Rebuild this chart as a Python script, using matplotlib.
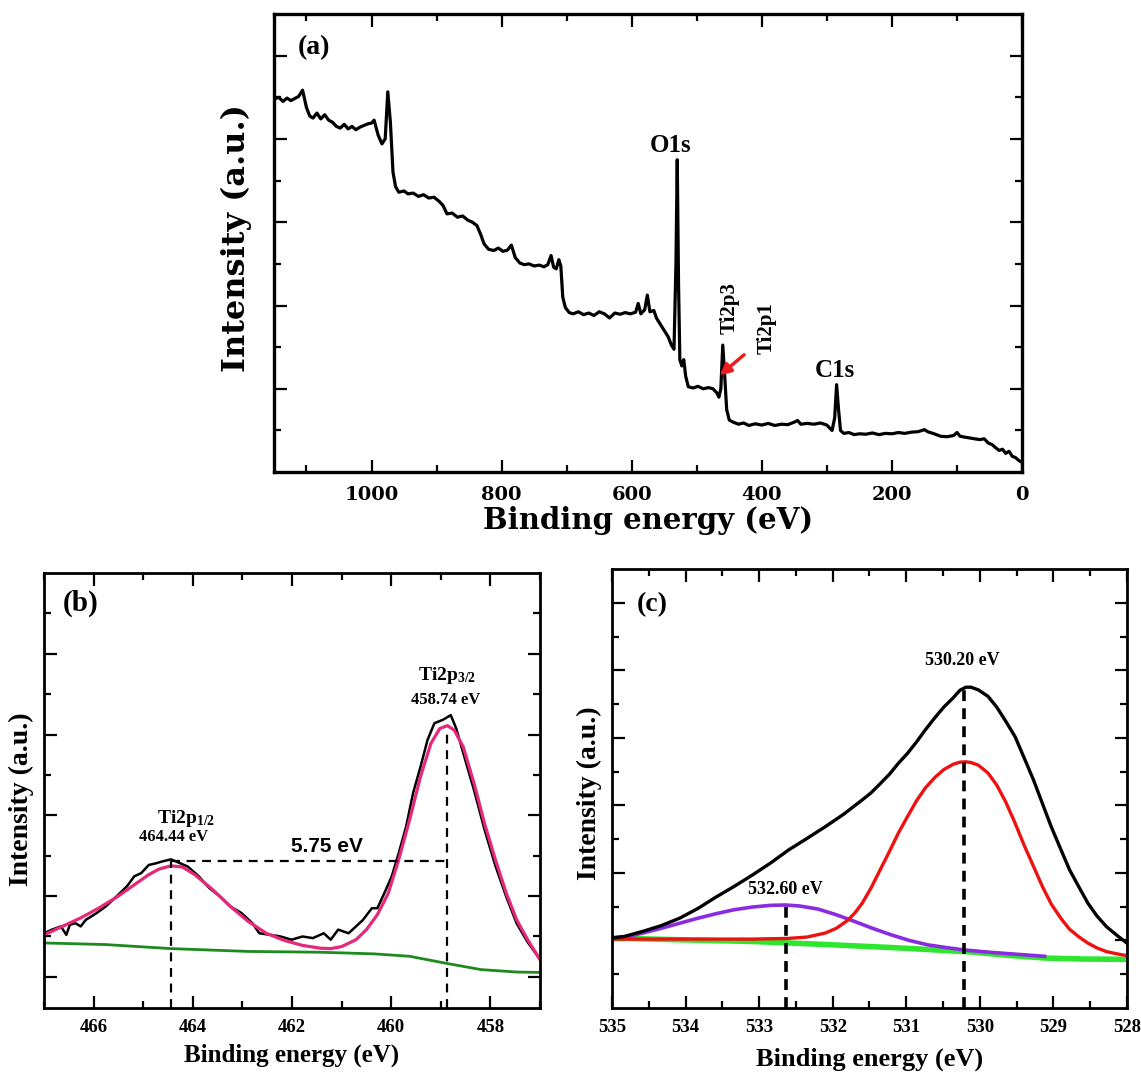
import numpy as np
import matplotlib
matplotlib.use("Agg")
import matplotlib.pyplot as plt
from matplotlib.ticker import MultipleLocator, FixedLocator

plt.rcParams['font.family'] = ['Liberation Serif', 'DejaVu Serif']
plt.rcParams['font.weight'] = 'bold'
plt.rcParams['mathtext.fontset'] = 'custom'
plt.rcParams['mathtext.rm'] = 'Liberation Serif:bold'
plt.rcParams['mathtext.default'] = 'rm'

# (a) survey spectrum
survey_be = [1150, 1143, 1136, 1130, 1124, 1118, 1112, 1106, 1100, 1095, 1090, 1084, 1078,
             1072, 1066, 1060, 1054, 1048, 1042, 1036, 1030, 1024, 1018, 1012, 1006, 1000,
             996, 990, 984, 979, 975, 971, 967, 963, 958, 950, 944, 936, 928, 920, 912, 904,
             896, 890, 884, 876, 868, 860, 852, 845, 838, 832, 827, 820, 812, 805, 798, 791,
             785, 779, 772, 765, 758, 750, 742, 735, 729, 724, 720, 716, 712, 709, 706, 702,
             696, 690, 682, 674, 666, 658, 650, 642, 634, 626, 618, 610, 602, 594, 590, 586,
             580, 576, 572, 566, 562, 556, 550, 544, 539, 535, 532, 530, 528, 526, 523, 520,
             517, 513, 506, 498, 490, 482, 475, 469, 466, 463, 460, 457, 454, 450, 444, 436,
             428, 420, 410, 400, 390, 380, 370, 360, 350, 345, 340, 330, 320, 310, 300, 292,
             288, 285, 282, 279, 274, 266, 258, 250, 240, 230, 220, 210, 200, 190, 180, 170,
             160, 150, 145, 135, 125, 115, 105, 100, 95, 88, 80, 72, 65, 58, 52, 46, 40, 35,
             30, 25, 20, 15, 10, 5, 2, 0]
survey_int = [8.95, 9.00, 8.90, 8.98, 8.92, 8.97, 9.02, 9.17, 8.75, 8.55, 8.50, 8.62, 8.48,
              8.58, 8.45, 8.40, 8.30, 8.26, 8.35, 8.24, 8.30, 8.22, 8.28, 8.32, 8.36, 8.38,
              8.45, 8.10, 7.88, 8.00, 9.13, 8.40, 7.20, 6.85, 6.72, 6.75, 6.68, 6.70, 6.62,
              6.66, 6.58, 6.60, 6.50, 6.40, 6.20, 6.22, 6.12, 6.15, 6.05, 6.00, 5.92, 5.70,
              5.48, 5.35, 5.32, 5.38, 5.30, 5.33, 5.45, 5.15, 5.02, 4.98, 5.00, 4.95, 4.97,
              4.93, 4.98, 5.20, 4.92, 4.88, 5.10, 4.95, 4.20, 3.95, 3.83, 3.80, 3.85, 3.78,
              3.82, 3.76, 3.85, 3.80, 3.70, 3.82, 3.79, 3.83, 3.80, 3.84, 4.05, 3.80, 3.90,
              4.25, 3.85, 3.88, 3.70, 3.55, 3.40, 3.25, 3.05, 2.95, 5.00, 7.50, 4.50, 2.70,
              2.55, 2.70, 2.30, 2.05, 2.02, 2.06, 2.00, 2.03, 2.00, 1.90, 1.80, 2.00, 3.05,
              2.30, 1.50, 1.25, 1.20, 1.15, 1.18, 1.12, 1.16, 1.13, 1.17, 1.12, 1.15, 1.14,
              1.20, 1.24, 1.15, 1.17, 1.15, 1.18, 1.13, 1.00, 1.30, 2.10, 1.50, 1.00, 0.93,
              0.95, 0.90, 0.92, 0.91, 0.94, 0.90, 0.93, 0.92, 0.95, 0.93, 0.96, 0.97, 1.02,
              0.97, 0.92, 0.86, 0.85, 0.88, 0.95, 0.86, 0.84, 0.82, 0.80, 0.78, 0.80, 0.70,
              0.66, 0.58, 0.52, 0.55, 0.45, 0.50, 0.38, 0.35, 0.28, 0.25, 0.27]

# (b) Ti 2p
ti_be = [467.0, 466.84, 466.66, 466.55, 466.48, 466.37, 466.26, 466.16, 465.94, 465.76,
         465.54, 465.33, 465.18, 465.04, 464.89, 464.75, 464.61, 464.44, 464.25, 464.10,
         463.88, 463.67, 463.45, 463.24, 463.02, 462.80, 462.66, 462.44, 462.23, 462.01,
         461.79, 461.58, 461.36, 461.22, 461.07, 460.86, 460.71, 460.57, 460.39, 460.28,
         460.14, 459.99, 459.85, 459.70, 459.56, 459.41, 459.27, 459.13, 458.95, 458.80,
         458.69, 458.55, 458.33, 458.12, 457.90, 457.68, 457.47, 457.25, 457.0]
ti_raw = [1.08, 1.17, 1.25, 1.04, 1.29, 1.33, 1.25, 1.41, 1.58, 1.74, 1.99, 2.24, 2.49,
          2.57, 2.77, 2.81, 2.86, 2.91, 2.81, 2.73, 2.49, 2.20, 1.99, 1.74, 1.58, 1.33, 1.08,
          1.04, 1.00, 0.92, 1.00, 0.96, 1.08, 0.92, 1.17, 1.08, 1.25, 1.41, 1.70, 1.70, 2.07,
          2.49, 3.06, 3.72, 4.55, 5.20, 5.86, 6.28, 6.37, 6.48, 6.15, 5.55, 4.62, 3.65, 2.75,
          1.98, 1.32, 0.86, 0.43]
ti_fit_be = [467.00, 466.63, 466.26, 465.90, 465.54, 465.18, 464.89, 464.68, 464.44, 464.21,
             463.96, 463.60, 463.24, 462.88, 462.52, 462.15, 461.79, 461.43, 461.22, 461.00,
             460.71, 460.50, 460.28, 460.06, 459.85, 459.63, 459.41, 459.20, 459.02, 458.87,
             458.73, 458.55, 458.33, 458.12, 457.90, 457.68, 457.47, 457.25, 457.00]
ti_fit = [1.04, 1.25, 1.46, 1.70, 1.97, 2.28, 2.53, 2.67, 2.75, 2.72, 2.53, 2.16, 1.74, 1.37,
          1.08, 0.90, 0.78, 0.71, 0.70, 0.75, 0.92, 1.17, 1.54, 2.07, 2.90, 3.89, 4.96, 5.78,
          6.15, 6.22, 6.11, 5.70, 4.79, 3.80, 2.90, 2.07, 1.41, 0.92, 0.43]
ti_bg_be = [467.0, 465.76, 464.44, 462.88, 461.43, 460.35, 459.63, 458.91, 458.19, 457.47, 457.0]
ti_bg = [0.84, 0.80, 0.70, 0.63, 0.61, 0.57, 0.51, 0.34, 0.18, 0.12, 0.11]
ti_peaks = [464.44, 458.88]
ti_peak_h = [2.86, 6.05]

# (c) O 1s
o_be = [535.00, 534.83, 534.58, 534.33, 534.08, 533.83, 533.59, 533.34, 533.09, 532.84,
        532.60, 532.35, 532.10, 531.85, 531.60, 531.48, 531.36, 531.23, 531.11, 530.98,
        530.86, 530.74, 530.61, 530.49, 530.36, 530.27, 530.19, 530.12, 530.02, 529.89,
        529.77, 529.65, 529.52, 529.40, 529.27, 529.15, 529.03, 528.90, 528.78, 528.65,
        528.53, 528.41, 528.28, 528.13, 528.00]
o_env = [2.07, 2.12, 2.27, 2.44, 2.66, 2.95, 3.28, 3.60, 3.94, 4.30, 4.68, 5.02, 5.37, 5.74,
         6.16, 6.37, 6.63, 6.92, 7.24, 7.55, 7.88, 8.24, 8.60, 8.91, 9.19, 9.41, 9.50, 9.50,
         9.42, 9.23, 8.91, 8.50, 8.03, 7.42, 6.75, 6.06, 5.37, 4.70, 4.09, 3.57, 3.10, 2.73,
         2.41, 2.14, 1.92]
o_red_be = [535.00, 533.09, 532.60, 532.35, 532.10, 531.95, 531.80, 531.70, 531.60, 531.48,
            531.36, 531.23, 531.11, 530.98, 530.86, 530.74, 530.61, 530.49, 530.36, 530.27,
            530.19, 530.12, 530.02, 529.89, 529.77, 529.65, 529.52, 529.40, 529.27, 529.15,
            529.03, 528.90, 528.78, 528.65, 528.53, 528.41, 528.28, 528.13, 528.00]
o_red = [2.04, 2.04, 2.06, 2.10, 2.22, 2.36, 2.59, 2.81, 3.10, 3.55, 4.07, 4.63, 5.17, 5.68,
         6.14, 6.52, 6.83, 7.06, 7.22, 7.28, 7.29, 7.27, 7.19, 6.96, 6.60, 6.11, 5.47, 4.83,
         4.19, 3.60, 3.08, 2.66, 2.33, 2.10, 1.92, 1.78, 1.67, 1.60, 1.55]
o_pur_be = [535.00, 534.78, 534.58, 534.33, 534.08, 533.83, 533.59, 533.34, 533.09, 532.84,
            532.64, 532.45, 532.20, 531.95, 531.70, 531.46, 531.21, 530.96, 530.71, 530.46,
            530.22, 529.87, 529.37, 529.12]
o_pur = [2.07, 2.12, 2.22, 2.36, 2.51, 2.66, 2.79, 2.91, 2.99, 3.04, 3.05, 3.02, 2.93, 2.76,
         2.56, 2.36, 2.17, 2.00, 1.87, 1.79, 1.72, 1.65, 1.57, 1.53]
o_bg_be = [535.0, 534.08, 533.09, 532.10, 531.11, 530.12, 529.62, 529.12, 528.60, 528.0]
o_bg = [2.07, 2.02, 1.97, 1.88, 1.78, 1.66, 1.56, 1.48, 1.45, 1.44]
o_peaks = [532.64, 530.21]
o_peak_h = [3.05, 9.50]


def style_axes(ax, lw=2.2, pad=10):
    for s in ax.spines.values():
        s.set_linewidth(lw)
    ax.tick_params(which='both', direction='in', top=True, right=True, width=1.6)
    ax.tick_params(which='major', length=9, labelsize=13.5, pad=pad)
    ax.tick_params(which='minor', length=5)
    ax.set_yticklabels([])


fig = plt.figure(figsize=(11.41, 10.73), dpi=100)

# ---------- (a)
ax = fig.add_axes([0.2401, 0.560, 0.6556, 0.427])
ax.plot(survey_be, survey_int, color='black', lw=2.3)
ax.set_xlim(1150, 0)
ax.set_ylim(0, 11)
ax.xaxis.set_major_locator(FixedLocator([0, 200, 400, 600, 800, 1000]))
ax.xaxis.set_minor_locator(MultipleLocator(100))
ax.yaxis.set_major_locator(FixedLocator([2, 4, 6, 8, 10]))
ax.yaxis.set_minor_locator(FixedLocator([1, 3, 5, 7, 9]))
ax.tick_params(which='minor', axis='y', length=7)
style_axes(ax, 2.4, pad=10)
for lab in ax.get_xticklabels():
    lab.set_family('DejaVu Serif')
    lab.set_fontsize(14)
ax.set_xlabel('Binding energy (eV)', fontsize=21, fontweight='bold', family='DejaVu Serif')
ax.xaxis.set_label_coords(0.5, -0.105)
ax.set_ylabel('Intensity (a.u.)', fontsize=23, fontweight='bold', family='DejaVu Serif')
ax.yaxis.set_label_coords(-0.05, 0.51)
ax.text(0.054, 0.926, '(a)', transform=ax.transAxes, fontsize=20, ha='center', va='center')
ax.text(541, 7.83, 'O1s', fontsize=18, ha='center', va='center')
ax.text(450, 3.95, 'Ti2p3', fontsize=15, ha='center', va='center', rotation=90)
ax.text(393, 3.47, 'Ti2p1', fontsize=15, ha='center', va='center', rotation=90)
ax.text(287, 2.45, 'C1s', fontsize=18, ha='center', va='center')
ax.annotate('', xy=(468, 2.28), xytext=(424, 2.86),
            arrowprops=dict(arrowstyle='-|>', color='#ee1c1c', lw=2.5, mutation_scale=16))

# ---------- (b)
ax = fig.add_axes([0.0386, 0.0606, 0.4347, 0.4054])
ax.plot(ti_be, ti_raw, color='black', lw=1.8)
ax.plot(ti_fit_be, ti_fit, color='#e5287a', lw=2.3)
ax.plot(ti_bg_be, ti_bg, color='#1d8a1d', lw=2.0)
for xp, hp in zip(ti_peaks, ti_peak_h):
    ax.plot([xp, xp], [-0.77, hp], color='black', lw=1.6, ls=(0, (4, 3)))
ax.plot(ti_peaks, [2.86, 2.86], color='black', lw=1.6, ls=(0, (4, 3)))
ax.set_xlim(467, 457)
ax.set_ylim(-0.77, 10)
ax.xaxis.set_major_locator(MultipleLocator(2))
ax.xaxis.set_minor_locator(MultipleLocator(1))
ax.yaxis.set_major_locator(FixedLocator([0, 2, 4, 6, 8]))
ax.yaxis.set_minor_locator(FixedLocator([1, 3, 5, 7, 9]))
style_axes(ax, 2.0, pad=8)
ax.set_xlabel('Binding energy (eV)', fontsize=18, fontweight='bold')
ax.xaxis.set_label_coords(0.5, -0.108)
ax.set_ylabel('Intensity (a.u.)', fontsize=20, fontweight='bold')
ax.yaxis.set_label_coords(-0.045, 0.48)
ax.text(0.073, 0.93, '(b)', transform=ax.transAxes, fontsize=21, ha='center', va='center')
ax.text(464.14, 3.93, 'Ti2p$_{1/2}$', fontsize=14, ha='center', va='center')
ax.text(464.38, 3.47, '464.44 eV', fontsize=12, ha='center', va='center')
ax.text(461.29, 3.23, '5.75 eV', fontsize=15, ha='center', va='center',
        family='Liberation Sans', fontweight='bold')
ax.text(458.87, 7.47, 'Ti2p$_{3/2}$', fontsize=14, ha='center', va='center')
ax.text(458.9, 6.85, '458.74 eV', fontsize=12, ha='center', va='center')

# ---------- (c)
ax = fig.add_axes([0.5364, 0.0606, 0.4513, 0.4091])
ax.plot(o_bg_be, o_bg, color='#2ee62e', lw=4.0)
ax.plot(o_pur_be, o_pur, color='#8a2be2', lw=2.6)
ax.plot(o_red_be, o_red, color='#ee1111', lw=2.4)
ax.plot(o_be, o_env, color='black', lw=2.4)
for xp, hp in zip(o_peaks, o_peak_h):
    ax.plot([xp, xp], [0, hp], color='black', lw=2.6, ls=(0, (3, 2)))
ax.set_xlim(535, 528)
ax.set_ylim(0, 13)
ax.xaxis.set_major_locator(MultipleLocator(1))
ax.xaxis.set_minor_locator(MultipleLocator(0.5))
ax.yaxis.set_major_locator(FixedLocator([2, 4, 6, 8, 10, 12]))
ax.yaxis.set_minor_locator(FixedLocator([1, 3, 5, 7, 9, 11]))
style_axes(ax, 2.0, pad=8)
ax.set_xlabel('Binding energy (eV)', fontsize=19, fontweight='bold')
ax.xaxis.set_label_coords(0.5, -0.118)
ax.set_ylabel('Intensity (a.u.)', fontsize=20, fontweight='bold')
ax.yaxis.set_label_coords(-0.043, 0.49)
ax.text(0.078, 0.92, '(c)', transform=ax.transAxes, fontsize=20, ha='center', va='center')
ax.text(530.24, 10.29, '530.20 eV', fontsize=13, ha='center', va='center')
ax.text(532.64, 3.5, '532.60 eV', fontsize=13, ha='center', va='center')

for a in fig.axes:
    a.xaxis.label.set_va('center')
    a.yaxis.label.set_va('center')

fig.savefig('out.png', dpi=100)
